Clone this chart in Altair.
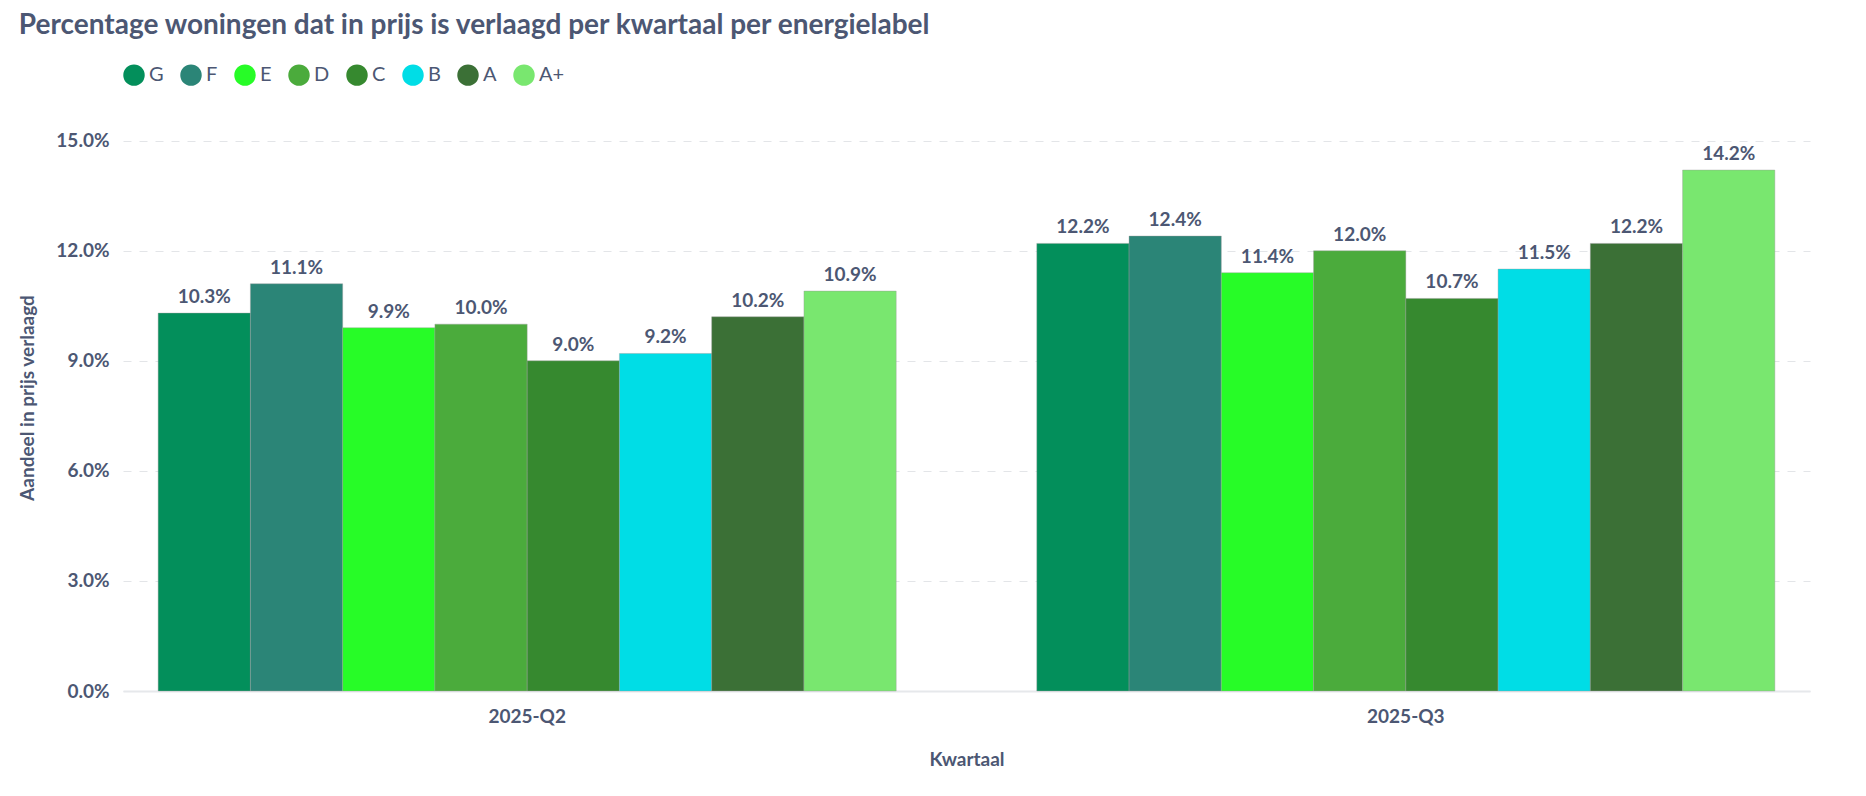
import altair as alt
import pandas as pd

quarters = ["2025-Q2", "2025-Q3"]
labels = ["G", "F", "E", "D", "C", "B", "A", "A+"]
q2 = [10.3, 11.1, 9.9, 10.0, 9.0, 9.2, 10.2, 10.9]
q3 = [12.2, 12.4, 11.4, 12.0, 10.7, 11.5, 12.2, 14.2]
colors = ["#038f5b", "#2b8577", "#27fc27", "#4bab3c", "#36892f", "#00dde6", "#3b7036", "#79e76f"]

rows = []
for q, vals in zip(quarters, [q2, q3]):
    for l, v in zip(labels, vals):
        rows.append({"Kwartaal": q, "Label": l, "v": v / 100})
df = pd.DataFrame(rows)

FONT = "Lato"
TXT = "#4c5773"

base = alt.Chart(df).encode(
    x=alt.X("Kwartaal:N", title="Kwartaal", scale=alt.Scale(paddingInner=0.16, paddingOuter=0.04),
            axis=alt.Axis(labelAngle=0, labelFontSize=19, labelFontWeight="bold", labelColor=TXT,
                          titleFontSize=19, titleFontWeight="bold", titleColor=TXT, titlePadding=24,
                          domainColor="#e6e8eb", domainWidth=2, ticks=False, labelPadding=16)),
    xOffset=alt.XOffset("Label:N", sort=labels),
)
bars = base.mark_bar(stroke="#999", strokeWidth=0.4).encode(
    y=alt.Y("v:Q", title="Aandeel in prijs verlaagd", scale=alt.Scale(domain=[0, 0.15]),
            axis=alt.Axis(format=".1%", values=[0, 0.03, 0.06, 0.09, 0.12, 0.15], labelFontSize=19,
                          labelFontWeight="bold", labelColor=TXT, titleFontSize=19, titleFontWeight="bold",
                          titleColor=TXT, gridDash=[8, 8], gridColor="#e3e5e8", domain=False, ticks=False,
                          labelPadding=14, titlePadding=18)),
    color=alt.Color("Label:N", sort=labels, scale=alt.Scale(domain=labels, range=colors),
                    legend=alt.Legend(title=None, orient="top", direction="horizontal", symbolType="circle",
                                      symbolSize=460, labelFontSize=20, labelColor=TXT, symbolStrokeWidth=0,
                                      columnPadding=16)),
)
text = base.mark_text(dy=-16, fontSize=19, fontWeight="bold", color=TXT, font=FONT).encode(
    y="v:Q", text=alt.Text("v:Q", format=".1%"))

chart = (bars + text).properties(
    width=1687, height=587,
    title=alt.Title("Percentage woningen dat in prijs is verlaagd per kwartaal per energielabel",
                    anchor="start", fontSize=28, fontWeight="bold", color=TXT, font=FONT, offset=24),
    padding={"left": 10, "top": 4, "right": 10, "bottom": 5},
).configure(font=FONT).configure_view(stroke=None).configure_legend(
    orient="none", legendX=-165, legendY=-71
)
chart.save("out.html", embed_options={"renderer": "svg", "actions": False})
